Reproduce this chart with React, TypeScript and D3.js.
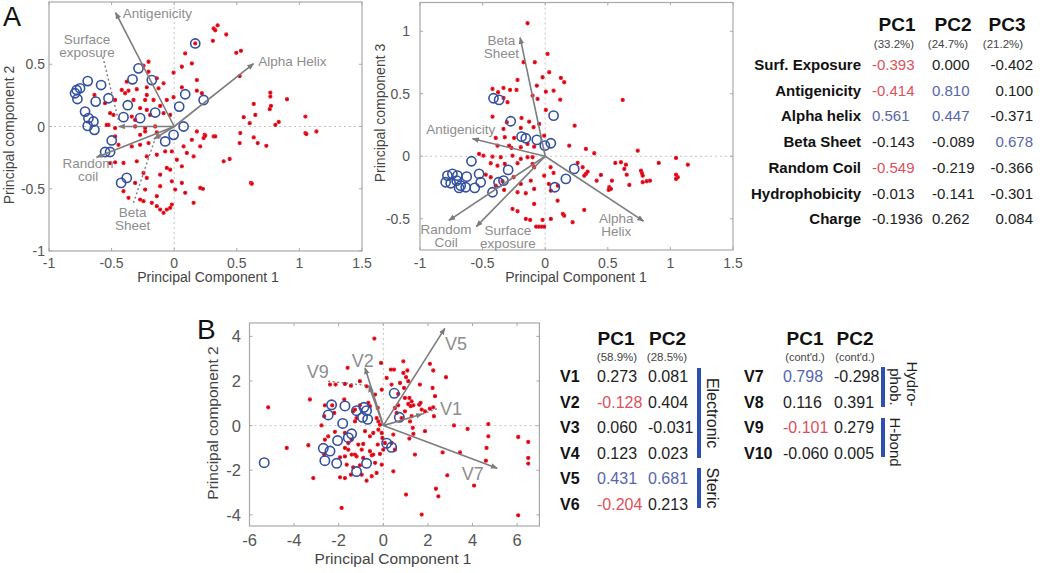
import React from "react";
import * as d3 from "d3";

type P = [number, number];
const FONT = "'Liberation Sans', Arial, Helvetica, sans-serif";

// ---------- Panel A data ----------
const varNamesA = ["Surf. Exposure", "Antigenicity", "Alpha helix", "Beta Sheet", "Random Coil", "Hydrophobicity", "Charge"];
const pc1A = ["-0.393", "-0.414", "0.561", "-0.143", "-0.549", "-0.013", "-0.1936"];
const pc2A = ["0.000", "0.810", "0.447", "-0.089", "-0.219", "-0.141", "0.262"];
const pc3A = ["-0.402", "0.100", "-0.371", "0.678", "-0.366", "-0.301", "0.084"];
const hl1A = ["r", "r", "b", "", "r", "", ""];
const hl2A = ["", "b", "b", "", "", "", ""];
const hl3A = ["", "", "", "b", "", "", ""];
const pcHeadA = ["PC1", "PC2", "PC3"];
const pctA = ["(33.2%)", "(24.7%)", "(21.2%)"];

const a1Blue: P[] = [
  [0.168, 0.667], [-0.285, 0.467], [-0.333, 0.379], [-0.179, 0.373], [-0.691, 0.365], [-0.752, 0.307], [-0.779, 0.293],
  [-0.792, 0.267], [-0.773, 0.221], [-0.584, 0.333], [-0.525, 0.227], [-0.627, 0.2], [-0.371, 0.171], [0.04, 0.16],
  [0.088, 0.259], [0.235, 0.213], [-0.712, 0.12], [-0.685, 0.067], [-0.691, 0.005], [-0.645, 0.04], [-0.637, -0.027],
  [-0.405, 0.075], [-0.272, 0.067], [-0.152, 0.112], [0.075, 0], [-0.005, -0.067], [-0.072, -0.12], [-0.499, -0.112],
  [-0.552, -0.205], [-0.512, -0.205], [-0.424, -0.453], [-0.379, -0.413],
];
const a1Red: P[] = [
  [-0.205, 0.52], [-0.245, 0.488], [-0.005, 0.432], [0.061, 0.48], [0.088, 0.587], [0.141, 0.507], [0.181, 0.373], [0.181, 0.288],
  [-0.005, 0.235], [0.061, 0.315], [-0.125, 0.307], [-0.219, 0.253], [-0.139, 0.387], [-0.085, 0.347], [-0.379, 0.36],
  [-0.419, 0.293], [-0.365, 0.288], [-0.325, 0.213], [-0.472, 0.213], [-0.299, 0.299], [-0.219, 0.315], [-0.165, 0.213],
  [-0.232, 0.213], [-0.059, 0.213], [-0.272, 0.147], [-0.219, 0.133], [-0.112, 0.165], [-0.085, 0.107], [-0.032, 0.093],
  [-0.192, 0.093], [-0.339, 0.08], [-0.312, 0.053], [-0.485, 0.093], [-0.552, 0.187], [-0.512, 0.107], [-0.525, 0.013],
  [-0.472, -0.013], [-0.312, 0], [-0.232, -0.013], [-0.272, -0.067], [-0.232, -0.04], [-0.152, 0], [-0.139, -0.048],
  [-0.125, -0.08], [-0.205, -0.133], [-0.272, -0.147], [-0.339, -0.16], [-0.472, -0.08], [-0.445, -0.147], [-0.512, -0.293],
  [-0.472, -0.288], [-0.405, -0.293], [-0.299, -0.28], [-0.219, -0.24], [-0.139, -0.227], [-0.072, -0.2], [-0.019, -0.2],
  [0.075, -0.16], [0.101, -0.213], [0.155, -0.24], [0.208, -0.16], [0.235, -0.093], [0.141, -0.107], [0.181, -0.04],
  [-0.405, -0.52], [-0.312, -0.453], [-0.245, -0.373], [-0.219, -0.413], [-0.112, -0.387], [-0.059, -0.333], [-0.032, -0.347],
  [-0.019, -0.44], [0.061, -0.453], [0.088, -0.533], [0.155, -0.613], [0.208, -0.493], [0.021, -0.267], [0.061, -0.32],
  [-0.112, -0.48], [-0.139, -0.56], [-0.232, -0.507], [-0.272, -0.587], [-0.245, -0.6], [-0.139, -0.64], [-0.112, -0.667],
  [-0.085, -0.693], [-0.059, -0.667], [-0.032, -0.653], [-0.019, -0.627], [-0.179, -0.613], [-0.365, -0.573], [0.008, -0.507],
  [-0.637, 0.253], [-0.539, 0.013], [-0.392, 0.267], [-0.205, 0.44], [0.221, 0.267], [0.243, -0.067], [0.168, 0.667],
  [0.315, 0.787], [0.328, 0.773], [0.347, 0.813], [0.416, 0.739], [0.309, 0.688], [0.496, 0.592], [0.533, 0.608], [0.523, 0.405],
  [0.768, 0.272], [0.768, 0.24], [0.901, 0.219], [0.635, 0.181], [0.773, 0.165], [0.763, 0.139], [0.555, 0.075], [0.648, 0.093],
  [0.603, 0.027], [1.048, 0.08], [0.808, 0.013], [0.835, 0.037], [0.528, -0.053], [0.635, -0.088], [0.667, -0.133],
  [0.736, -0.155], [0.523, -0.133], [0.315, -0.08], [0.328, -0.08], [0.248, -0.075], [1.136, -0.04], [1.048, -0.053],
  [1.056, -0.061], [0.395, -0.28], [0.443, -0.261], [0.613, -0.453], [0.62, -0.46], [0.229, -0.501],
];

const a2Blue: P[] = [
  [-0.413, 0.464], [-0.368, 0.451], [-0.275, 0.28], [-0.189, 0.157], [-0.155, 0.144], [-0.067, 0.131], [-0.003, 0.085],
  [0.045, 0.104], [0.067, 0.325], [-0.589, -0.04], [-0.296, -0.109], [-0.373, -0.208], [-0.333, -0.195], [-0.421, -0.288],
  [0.077, -0.248], [0.165, -0.181], [-0.528, -0.141], [-0.515, -0.208], [-0.563, -0.253], [-0.781, -0.155], [-0.741, -0.141],
  [-0.701, -0.155], [-0.795, -0.208], [-0.755, -0.216], [-0.707, -0.195], [-0.675, -0.235], [-0.627, -0.163],
  [-0.635, -0.248], [-0.688, -0.253], [0.232, -0.101],
];
const a2Red: P[] = [
  [-0.141, 1.064], [0.019, 0.819], [-0.173, 0.752], [-0.083, 0.752], [0.032, 0.672], [-0.021, 0.632], [-0.221, 0.611],
  [0.125, 0.627], [0.152, 0.592], [-0.421, 0.539], [-0.333, 0.547], [-0.28, 0.531], [-0.229, 0.531], [-0.376, 0.512],
  [-0.067, 0.565], [0.005, 0.517], [0.067, 0.525], [-0.333, 0.467], [-0.301, 0.432], [-0.101, 0.485], [-0.061, 0.459],
  [0.12, 0.453], [0.005, 0.371], [-0.421, 0.317], [-0.189, 0.307], [-0.307, 0.272], [-0.128, 0.277], [-0.048, 0.259],
  [-0.333, 0.219], [-0.195, 0.227], [-0.093, 0.232], [-0.395, 0.147], [-0.323, 0.152], [-0.248, 0.147], [-0.008, 0.165],
  [-0.381, 0.085], [-0.288, 0.085], [-0.269, 0.067], [-0.195, 0.072], [-0.141, 0.099], [-0.088, 0.077], [0.192, 0.085],
  [-0.528, 0.019], [-0.493, 0.005], [-0.421, -0.003], [-0.355, -0.008], [-0.261, 0.005], [-0.195, -0.021], [-0.141, -0.008],
  [-0.101, -0.008], [-0.435, -0.056], [-0.381, -0.075], [-0.323, -0.061], [-0.221, -0.056], [-0.101, -0.061], [-0.088, -0.088],
  [-0.475, -0.147], [-0.435, -0.168], [-0.395, -0.235], [-0.341, -0.2], [-0.328, -0.269], [-0.253, -0.168], [-0.195, -0.221],
  [-0.115, -0.195], [-0.088, -0.261], [-0.221, -0.288], [-0.155, -0.296], [-0.261, -0.421], [-0.221, -0.44], [-0.155, -0.501],
  [-0.12, -0.509], [-0.021, -0.509], [-0.072, -0.563], [-0.05, -0.563], [-0.028, -0.563], [-0.008, -0.563], [0.045, -0.501],
  [0.152, -0.475], [0.219, -0.528], [0.045, -0.275], [0.099, -0.355], [-0.008, -0.155], [-0.088, -0.381],
  [0.619, 0.451], [0.235, 0.245], [0.325, 0.059], [0.392, 0.024], [0.739, 0.045], [1.045, -0.013], [1.139, -0.067],
  [0.907, -0.053], [0.56, -0.053], [0.605, -0.048], [0.645, -0.067], [0.632, -0.101], [0.651, -0.147], [0.672, -0.229],
  [0.765, -0.115], [0.773, -0.136], [0.779, -0.155], [0.779, -0.208], [0.811, -0.2], [0.837, -0.195], [0.512, -0.248],
  [0.507, -0.269], [0.525, -0.261], [0.533, -0.195], [0.445, -0.149], [0.411, -0.195], [0.325, -0.141], [0.339, -0.123],
  [0.312, -0.155], [0.299, -0.088], [0.259, -0.053], [1.045, -0.147], [1.059, -0.168], [1.045, -0.181], [0.312, -0.429],
  [0.029, -0.221], [0.067, -0.133], [0.043, -0.088], [0.101, -0.235], [0.141, -0.461],
];

// ---------- Panel B data ----------
const varNamesB = ["V1", "V2", "V3", "V4", "V5", "V6", "V7", "V8", "V9", "V10"];
const pc1B = ["0.273", "-0.128", "0.060", "0.123", "0.431", "-0.204", "0.798", "0.116", "-0.101", "-0.060"];
const pc2B = ["0.081", "0.404", "-0.031", "0.023", "0.681", "0.213", "-0.298", "0.391", "0.279", "0.005"];
const hl1B = ["", "r", "", "", "b", "r", "b", "", "r", ""];
const hl2B = ["", "", "", "", "b", "", "", "", "", ""];
const pctB = ["(58.9%)", "(28.5%)"];
const contB = ["(cont'd.)", "(cont'd.)"];

const bBlue: P[] = [
  [-5.34, -1.66], [-2.32, 0.93], [-2.47, 0.48], [-1.72, 0.88], [-1.82, 0.1], [-1.2, 0.67], [-0.87, 0.82], [-0.75, 0.67],
  [-0.93, 0.37], [-0.7, 0.28], [0.49, 1.45], [0.72, 0.37], [-1.42, -0.37], [-1.57, -0.54], [-2.05, -0.67], [-2.69, -1.02],
  [-2.39, -1.14], [-2.62, -1.57], [-2.09, -1.69], [-1.2, -2.06], [-0.75, -1.69], [0.15, -0.79], [0.37, -0.97],
];
const bRed: P[] = [
  [-0.4, 3.9], [-0.1, 2.81], [0.34, 2.51], [-1.6, 2.59], [-2.39, 1.84], [-2.14, 1.84], [-1.72, 1.87], [-1.45, 1.79],
  [-1.05, 1.99], [-0.75, 1.76], [-3.29, 1.17], [-2.62, 0.91], [-2.29, 0.91], [-2.65, 0.42], [-2.2, 0.57], [-1.75, 1.17],
  [-1.35, 0.64], [-1.27, 0.72], [-1.05, 0.91], [-1.2, 0.34], [-1.27, 0.19], [-0.67, 1.02], [-0.6, 0.87], [-0.25, 0.79],
  [-0.3, 0.34], [-0.22, 0.19], [-0.15, 0.04], [-0.37, 1.39], [-0.07, 1.61], [0.15, 2.14], [0.37, 1.84], [-2.77, 0.01],
  [-2.17, -0.28], [-3.36, -0.88], [-3.14, -2.35], [-4.33, -1.0], [-5.16, 0.82], [-1.72, -0.33], [-1.57, -0.78],
  [-1.42, -0.63], [-1.72, -1.0], [-1.12, -0.85], [-0.82, -0.25], [-0.6, -0.48], [-0.45, -0.33], [-0.22, -0.18],
  [-0.07, -0.33], [-0.04, -0.55], [0.07, -0.78], [-0.25, -0.85], [-0.15, -1.27], [0, -1.08], [-1.42, -1.3], [-1.72, -1.38],
  [-1.94, -1.42], [-1.57, -1.08], [-1.27, -1.3], [-1.64, -1.75], [-1.35, -1.87], [-1.05, -1.78], [-0.52, -1.33],
  [-0.37, -1.67], [-0.07, -1.75], [-0.3, -2.12], [-0.52, -2.27], [-0.75, -2.47], [-0.6, -1.15], [-0.45, -1.3],
  [-0.97, -1.08], [-1.2, -1.38], [-0.9, -1.45], [-1.94, -2.32], [-1.87, -3.69], [-2.62, -0.63], [-2.65, -1.3],
  [-1.45, -2.2], [-0.97, -2.2], [-1.72, -2.35], [-0.9, -0.82], [-2.47, -0.48],
  [0.9, 2.88], [1.08, 2.47], [0.9, 2.36], [1.02, 2.17], [1.12, 1.99], [2.09, 2.77], [2.24, 2.47], [2.81, 2.17], [0.48, 2.51],
  [0.75, 1.91], [0.93, 1.69], [0.67, 1.42], [0.97, 1.24], [1.12, 0.97], [1.23, 0.87], [1.35, 0.91], [1.61, 0.94],
  [1.67, 1.02], [1.17, 1.24], [1.27, 1.09], [1.64, 1.84], [2.21, 1.69], [2.32, 1.32], [2.24, 0.82], [2.27, 0.42],
  [1.87, 0.64], [1.72, 0.72], [2.09, 0.76], [0.52, 0.79], [0.67, 0.91], [0.6, 0.57], [1.27, 0.42], [1.2, 0.19],
  [0.82, 0.34], [0.97, 0.64], [1.87, -0.25], [1.32, -0.1], [1.35, -0.37], [1.17, -0.58], [0.45, -0.4], [0.37, -0.78],
  [0.52, -1.08], [1.42, -1.3], [2.66, -1.2], [3.44, -1.2], [3.17, 0.01], [3.78, -0.15], [4.71, 0.07], [4.71, -0.48],
  [4.63, -1.0], [4.6, -1.57], [6.05, -0.51], [6.5, -0.73], [6.5, -1.45], [6.5, -1.7], [2.87, -2.23], [4.07, -2.69],
  [2.36, -2.83], [2.47, -3.17], [1.02, -3.09], [1.72, -3.99], [6.05, -4.02], [0.45, -2.05],
];

// ---------- drawing helpers ----------
const RED = "#e0505a";
const BLUE = "#5566ad";
const BAR = "#2d4fb3";
const AXIS = "#a8a8a8";
const TICK = "#555";
const ARROW = "#7c7c7c";
const ALABEL = "#8d8d8d";

type Arrow = { x: number; y: number; dashed?: boolean };
type Label = { lines: string[]; x: number; y: number; anchor: string };
type Leader = { from: P; to: P };

interface PlotProps {
  id: string;
  xr: [number, number];
  yr: [number, number];
  xd: [number, number];
  yd: [number, number];
  xTicks: number[];
  yTicks: number[];
  red: P[];
  blue: P[];
  arrows: Arrow[];
  labels: Label[];
  leaders: Leader[];
  tickSize: number;
  tickLabelX: number; // right edge of y tick labels
  tickLabelY: number; // baseline of x tick labels
  labelSize: number;
  lineGap: number;
  circleR: number;
  xTitle: string;
  yTitle: string;
  xTitlePos: P;
  yTitlePos: P;
  titleSize: number;
}

function Plot(p: PlotProps) {
  const x = d3.scaleLinear().domain(p.xd).range(p.xr);
  const y = d3.scaleLinear().domain(p.yd).range(p.yr);
  const [x0, x1] = p.xr;
  const [y1, y0] = p.yr; // y0 top
  const tl = 3;
  return (
    <g>
      <defs>
        <marker id={"ah-" + p.id} viewBox="0 0 10 10" refX="9" refY="5" markerWidth="7" markerHeight="7" orient="auto-start-reverse" markerUnits="userSpaceOnUse">
          <path d="M0,1 L10,5 L0,9 z" fill={ARROW} />
        </marker>
      </defs>
      <rect x={x0} y={y0} width={x1 - x0} height={y1 - y0} fill="white" stroke={AXIS} strokeWidth={1.2} />
      {/* zero lines */}
      <line x1={x(0)} x2={x(0)} y1={y0} y2={y1} stroke="#c4c4c4" strokeDasharray="2,3" />
      <line x1={x0} x2={x1} y1={y(0)} y2={y(0)} stroke="#c4c4c4" strokeDasharray="2,3" />
      {/* ticks */}
      {p.xTicks.map((t) => (
        <g key={"xt" + t}>
          <line x1={x(t)} x2={x(t)} y1={y1} y2={y1 - tl} stroke={AXIS} />
          <line x1={x(t)} x2={x(t)} y1={y0} y2={y0 + tl} stroke={AXIS} />
          <text x={x(t)} y={p.tickLabelY} textAnchor="middle" fontSize={p.tickSize} fill={TICK} fontFamily={FONT}>
            {String(t)}
          </text>
        </g>
      ))}
      {p.yTicks.map((t) => (
        <g key={"yt" + t}>
          <line x1={x0} x2={x0 + tl} y1={y(t)} y2={y(t)} stroke={AXIS} />
          <line x1={x1} x2={x1 - tl} y1={y(t)} y2={y(t)} stroke={AXIS} />
          <text x={p.tickLabelX} y={y(t) + p.tickSize * 0.36} textAnchor="end" fontSize={p.tickSize} fill={TICK} fontFamily={FONT}>
            {String(t)}
          </text>
        </g>
      ))}
      {/* red points */}
      {p.red.map((d, i) => (
        <circle key={"r" + i} cx={x(d[0])} cy={y(d[1])} r={1.5} fill="#7d0c14" stroke="#ff1424" strokeWidth={1.3} />
      ))}
      {/* blue circles */}
      {p.blue.map((d, i) => (
        <circle key={"b" + i} cx={x(d[0])} cy={y(d[1])} r={p.circleR} fill="none" stroke="#32509f" strokeWidth={1.6} />
      ))}
      {/* arrows */}
      {p.arrows.map((a, i) => (
        <line key={"a" + i} x1={x(0)} y1={y(0)} x2={x(a.x)} y2={y(a.y)} stroke={ARROW} strokeWidth={1.6} markerEnd={`url(#ah-${p.id})`} />
      ))}
      {p.leaders.map((l, i) => (
        <line key={"l" + i} x1={x(l.from[0])} y1={y(l.from[1])} x2={x(l.to[0])} y2={y(l.to[1])} stroke={ARROW} strokeWidth={1.4} strokeDasharray="2,2.5" />
      ))}
      {p.labels.map((l, i) => (
        <text key={"lb" + i} x={x(l.x)} y={y(l.y)} textAnchor={l.anchor} fontSize={p.labelSize} fill={ALABEL} fontFamily={FONT}>
          {l.lines.map((s, j) => (
            <tspan key={j} x={x(l.x)} dy={j === 0 ? 0 : p.lineGap}>
              {s}
            </tspan>
          ))}
        </text>
      ))}
      <text x={p.xTitlePos[0]} y={p.xTitlePos[1]} textAnchor="middle" fontSize={p.titleSize} fill="#444" fontFamily={FONT}>
        {p.xTitle}
      </text>
      <text transform={`translate(${p.yTitlePos[0]},${p.yTitlePos[1]}) rotate(-90)`} textAnchor="middle" fontSize={p.titleSize} fill="#444" fontFamily={FONT}>
        {p.yTitle}
      </text>
    </g>
  );
}

const colorOf = (h: string) => (h === "r" ? RED : h === "b" ? BLUE : "#222");

export default function App() {
  const sA1 = 1.13;
  const sA2 = 1.4;
  const sB = 6.4;
  const L = (i: number, arr: string[]) => +arr[i];

  const arrowsA1: Arrow[] = [0, 1, 2, 3, 4].map((i) => ({ x: L(i, pc1A) * sA1, y: L(i, pc2A) * sA1 }));
  const arrowsA2: Arrow[] = [0, 1, 2, 3, 4].map((i) => ({ x: L(i, pc1A) * sA2, y: L(i, pc3A) * sA2 }));
  const arrowsB: Arrow[] = [0, 1, 4, 6, 8].map((i) => ({ x: L(i, pc1B) * sB, y: L(i, pc2B) * sB }));

  const rowY = (i: number) => 70 + i * 25.7;
  const rowYB = (i: number) => 382 + i * 25.5;

  return (
    <svg width={1050} height={573} style={{ position: "absolute", left: 0, top: 0, background: "white" }} fontFamily={FONT}>
      <rect width={1050} height={573} fill="white" />
      <text x={3} y={26} fontSize={27} fill="#111">A</text>
      <text x={197} y={339} fontSize={28} fill="#111">B</text>

      <Plot
        id="a1"
        xr={[49, 362]}
        yr={[251, 2]}
        xd={[-1, 1.5]}
        yd={[-1, 1]}
        xTicks={[-1, -0.5, 0, 0.5, 1, 1.5]}
        yTicks={[-1, -0.5, 0, 0.5]}
        red={a1Red}
        blue={a1Blue}
        arrows={arrowsA1}
        labels={[
          { lines: ["Antigenicity"], x: -0.41, y: 0.87, anchor: "start" },
          { lines: ["Surface", "exposure"], x: -0.696, y: 0.664, anchor: "middle" },
          { lines: ["Alpha Helix"], x: 0.672, y: 0.488, anchor: "start" },
          { lines: ["Beta", "Sheet"], x: -0.332, y: -0.728, anchor: "middle" },
          { lines: ["Random", "coil"], x: -0.688, y: -0.336, anchor: "middle" },
        ]}
        leaders={[
          { from: [-0.57, 0.56], to: [-0.44, 0.03] },
          { from: [-0.325, -0.613], to: [-0.15, -0.09] },
        ]}
        tickSize={14}
        tickLabelX={45}
        tickLabelY={268}
        labelSize={13.5}
        lineGap={13}
        circleR={4.6}
        xTitle="Principal Component 1"
        yTitle="Principal component 2"
        xTitlePos={[208, 282]}
        yTitlePos={[14, 135]}
        titleSize={14}
      />

      <Plot
        id="a2"
        xr={[420, 733]}
        yr={[250, 2.5]}
        xd={[-1, 1.5]}
        yd={[-0.75, 1.23]}
        xTicks={[-1, -0.5, 0, 0.5, 1, 1.5]}
        yTicks={[-0.5, 0, 0.5, 1]}
        red={a2Red}
        blue={a2Blue}
        arrows={arrowsA2}
        labels={[
          { lines: ["Beta", "Sheet"], x: -0.35, y: 0.894, anchor: "middle" },
          { lines: ["Antigenicity"], x: -0.674, y: 0.182, anchor: "middle" },
          { lines: ["Random", "Coil"], x: -0.792, y: -0.618, anchor: "middle" },
          { lines: ["Surface", "exposure"], x: -0.298, y: -0.626, anchor: "middle" },
          { lines: ["Alpha", "Helix"], x: 0.568, y: -0.53, anchor: "middle" },
        ]}
        leaders={[]}
        tickSize={14}
        tickLabelX={410}
        tickLabelY={268}
        labelSize={13.5}
        lineGap={13}
        circleR={4.6}
        xTitle="Principal Component 1"
        yTitle="Principal component 3"
        xTitlePos={[576, 282]}
        yTitlePos={[385, 113]}
        titleSize={14}
      />

      <Plot
        id="b"
        xr={[249.5, 539.4]}
        yr={[526, 323]}
        xd={[-6, 7]}
        yd={[-4.5, 4.6]}
        xTicks={[-6, -4, -2, 0, 2, 4, 6]}
        yTicks={[-4, -2, 0, 2, 4]}
        red={bRed}
        blue={bBlue}
        arrows={arrowsB}
        labels={[
          { lines: ["V1"], x: 2.54, y: 0.48, anchor: "start" },
          { lines: ["V2"], x: -1.42, y: 2.63, anchor: "start" },
          { lines: ["V5"], x: 2.77, y: 3.39, anchor: "start" },
          { lines: ["V7"], x: 3.52, y: -2.44, anchor: "start" },
          { lines: ["V9"], x: -3.43, y: 2.14, anchor: "start" },
        ]}
        leaders={[
          { from: [-2.47, 1.99], to: [-0.65, 1.79] },
          { from: [1.75, 0.52], to: [2.5, 0.79] },
        ]}
        tickSize={16.5}
        tickLabelX={241}
        tickLabelY={546}
        labelSize={18}
        lineGap={18}
        circleR={4.7}
        xTitle="Principal Component 1"
        yTitle="Principal component 2"
        xTitlePos={[393, 564]}
        yTitlePos={[218, 423]}
        titleSize={15.5}
      />

      {/* ---- Table A ---- */}
      {pcHeadA.map((h, i) => (
        <text key={"ha" + i} x={[897, 953, 1007][i]} y={31} textAnchor="middle" fontSize={19} fontWeight="bold" fill="#111">
          {h}
        </text>
      ))}
      {pctA.map((h, i) => (
        <text key={"pa" + i} x={[894, 948, 1003][i]} y={48} textAnchor="middle" fontSize={11.5} fill="#444">
          {h}
        </text>
      ))}
      {varNamesA.map((v, i) => (
        <g key={"ra" + i}>
          <text x={861} y={rowY(i)} textAnchor="end" fontSize={15} fontWeight="bold" fill="#111">
            {v}
          </text>
          <text x={872} y={rowY(i)} fontSize={15} fill={colorOf(hl1A[i])}>
            {pc1A[i]}
          </text>
          <text x={932} y={rowY(i)} fontSize={15} fill={colorOf(hl2A[i])}>
            {pc2A[i]}
          </text>
          <text x={1033} y={rowY(i)} textAnchor="end" fontSize={15} fill={colorOf(hl3A[i])}>
            {pc3A[i]}
          </text>
        </g>
      ))}

      {/* ---- Table B (first part) ---- */}
      {["PC1", "PC2"].map((h, i) => (
        <text key={"hb" + i} x={[616, 667.5][i]} y={345} textAnchor="middle" fontSize={19} fontWeight="bold" fill="#111">
          {h}
        </text>
      ))}
      {pctB.map((h, i) => (
        <text key={"pb" + i} x={[617, 667][i]} y={361} textAnchor="middle" fontSize={11.5} fill="#444">
          {h}
        </text>
      ))}
      {varNamesB.slice(0, 6).map((v, i) => (
        <g key={"rb" + i}>
          <text x={560} y={rowYB(i)} fontSize={16} fontWeight="bold" fill="#111">
            {v}
          </text>
          <text x={597} y={rowYB(i)} fontSize={16} fill={colorOf(hl1B[i])}>
            {pc1B[i]}
          </text>
          <text x={648} y={rowYB(i)} fontSize={16} fill={colorOf(hl2B[i])}>
            {pc2B[i]}
          </text>
        </g>
      ))}
      <rect x={697} y={368} width={4} height={90} fill={BAR} />
      <rect x={697} y={468} width={4} height={40} fill={BAR} />
      <text transform="translate(707,413) rotate(90)" textAnchor="middle" fontSize={16} fill="#222">Electronic</text>
      <text transform="translate(707,488) rotate(90)" textAnchor="middle" fontSize={16} fill="#222">Steric</text>

      {/* ---- Table B (cont'd) ---- */}
      {["PC1", "PC2"].map((h, i) => (
        <text key={"hc" + i} x={[805, 855][i]} y={345} textAnchor="middle" fontSize={19} fontWeight="bold" fill="#111">
          {h}
        </text>
      ))}
      {contB.map((h, i) => (
        <text key={"pc" + i} x={[805, 855][i]} y={361} textAnchor="middle" fontSize={11} fill="#444">
          {h}
        </text>
      ))}
      {varNamesB.slice(6).map((v, j) => {
        const i = j + 6;
        return (
          <g key={"rc" + i}>
            <text x={744} y={rowYB(j)} fontSize={16} fontWeight="bold" fill="#111">
              {v}
            </text>
            <text x={783} y={rowYB(j)} fontSize={16} fill={colorOf(hl1B[i])}>
              {pc1B[i]}
            </text>
            <text x={834} y={rowYB(j)} fontSize={16} fill={colorOf(hl2B[i])}>
              {pc2B[i]}
            </text>
          </g>
        );
      })}
      <rect x={881} y={367} width={4} height={40} fill={BAR} />
      <rect x={881} y={418} width={4} height={39} fill={BAR} />
      <text transform="translate(907,384) rotate(90)" textAnchor="middle" fontSize={15} fill="#222">Hydro-</text>
      <text transform="translate(890,387) rotate(90)" textAnchor="middle" fontSize={15} fill="#222">phob.</text>
      <text transform="translate(890,442) rotate(90)" textAnchor="middle" fontSize={15} fill="#222">H-bond</text>
    </svg>
  );
}
